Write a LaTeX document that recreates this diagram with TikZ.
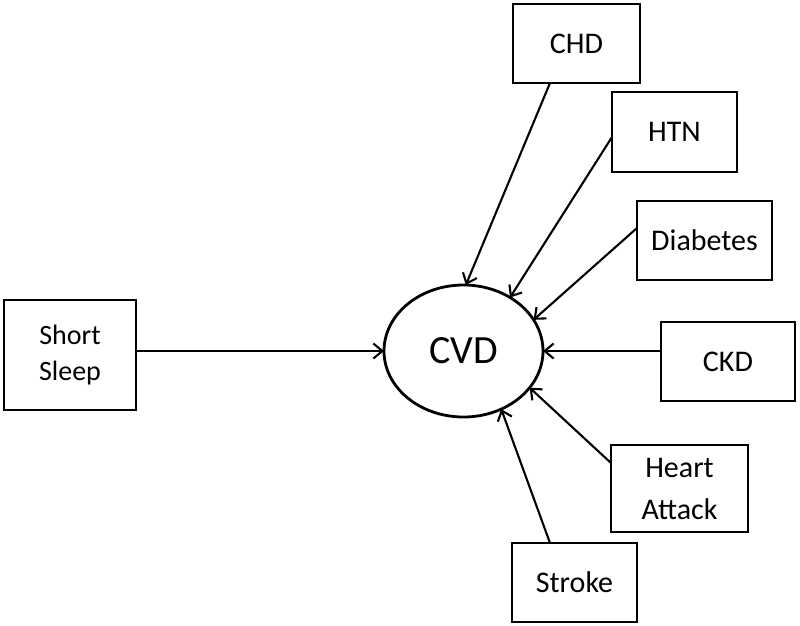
\documentclass[tikz,border=0pt]{standalone}
\usepackage{fontspec}
\setmainfont{Carlito}
\usetikzlibrary{arrows.meta,shapes.geometric,calc}
\begin{document}
\begin{tikzpicture}[x=1pt,y=-1pt,
  box/.style={draw,line width=2.8pt,rectangle,outer sep=0pt,inner sep=0pt,align=center,
    font=\fontsize{30}{36}\selectfont},
  conn/.style={line width=2.1pt,-{Straight Barb[length=9pt,width=15pt]}}]
\useasboundingbox (0,0) rectangle (800,625);
\fill[white] (0,0) rectangle (800,625);
\node[box,minimum width=127pt,minimum height=79pt] (chd) at (576.5,43.5) {CHD};
\node[box,minimum width=125pt,minimum height=80pt] (htn) at (674.5,132) {HTN};
\node[box,minimum width=135pt,minimum height=79pt] (diab) at (704.5,240.5) {Diabetes};
\node[box,minimum width=134pt,minimum height=79pt] (ckd) at (728,361.5) {CKD};
\node[box,minimum width=137pt,minimum height=87pt,font=\fontsize{30}{42}\selectfont] (heart) at (679.5,488.5) {Heart\\Attack};
\node[box,minimum width=125pt,minimum height=79pt] (stroke) at (574.5,582.5) {Stroke};
\node[box,minimum width=132pt,minimum height=110pt,font=\fontsize{28}{36}\selectfont] (ss) at (70,355) {Short\\Sleep};
\node[draw,ellipse,line width=2.8pt,minimum width=159pt,minimum height=132pt,inner sep=0pt,outer sep=0pt,
  font=\fontsize{40}{48}\selectfont] (cvd) at (463.5,351) {CVD};
\draw[conn] (ss.east |- cvd.west) -- (cvd.west);
\draw[conn] ($(chd.south west)+(37,0)$) -- (cvd.88);
\draw[conn] ($(htn.west)+(0,5)$) -- (cvd.49);
\draw[conn] ($(diab.west)+(0,-12.5)$) -- (cvd.24);
\draw[conn] (ckd.west |- cvd.east) -- (cvd.east);
\draw[conn] ($(heart.west)+(0,-25.5)$) -- (cvd.-29);
\draw[conn] ($(stroke.north west)+(38,0)$) -- (cvd.-57);
\end{tikzpicture}
\end{document}
